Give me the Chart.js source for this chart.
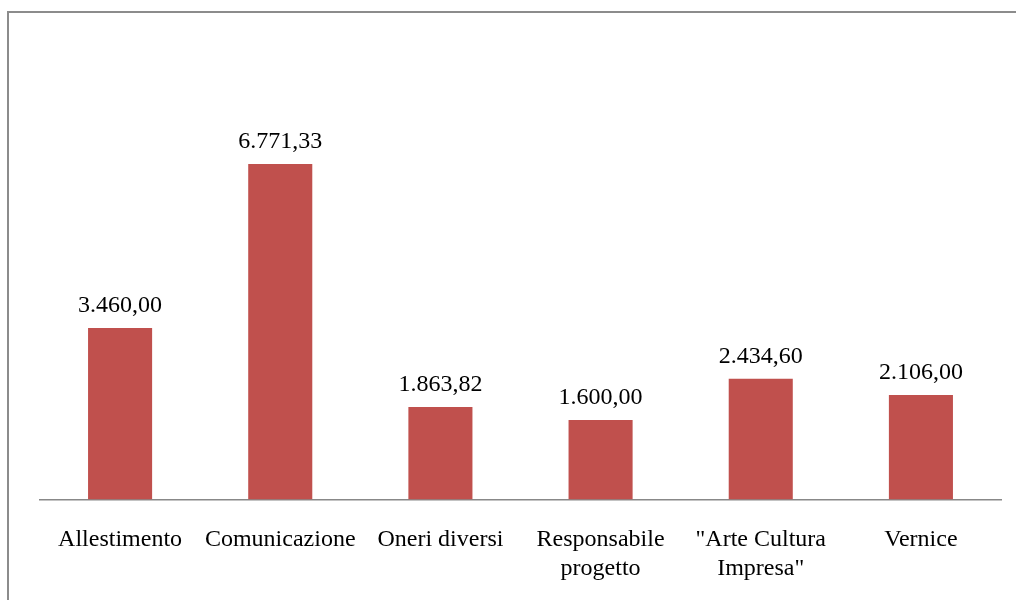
<!DOCTYPE html>
<html>
<head>
<meta charset="utf-8">
<script src="https://cdn.jsdelivr.net/npm/chart.js@4"></script>
<style>
  html, body { margin: 0; padding: 0; background: #fff; overflow: hidden; }
  #wrap { position: relative; width: 1016px; height: 600px; overflow: hidden; }
  #frame { position: absolute; left: 7px; top: 11px; width: 1100px; height: 700px; border: 2px solid #8c8c8c; box-sizing: border-box; }
  canvas { position: absolute; left: 0; top: 0; }
</style>
</head>
<body>
<div id="wrap">
  <div id="frame"></div>
  <canvas id="myChart" width="1016" height="609"></canvas>
</div>
<script>
// Chart data
var categories = ['Allestimento', 'Comunicazione', 'Oneri diversi', ['Responsabile', 'progetto'], ['"Arte Cultura', 'Impresa"'], 'Vernice'];
var amounts = [3460.00, 6771.33, 1863.82, 1600.00, 2434.60, 2106.00];
var axisMax = 8000;

// Italian number format: 1.234,56
function formatIt(v) {
    var parts = v.toFixed(2).split('.');
    var intPart = parts[0].replace(/\B(?=(\d{3})+(?!\d))/g, '.');
    return intPart + ',' + parts[1];
}

// Draws the value over each bar
var valueLabels = {
    id: 'valueLabels',
    afterDatasetsDraw: function(chart) {
        var ctx = chart.ctx;
        var meta = chart.getDatasetMeta(0);
        ctx.save();
        ctx.font = '24px "Liberation Serif", "Times New Roman", serif';
        ctx.fillStyle = '#000';
        ctx.textAlign = 'center';
        ctx.textBaseline = 'alphabetic';
        meta.data.forEach(function(bar, i) {
            ctx.fillText(formatIt(amounts[i]), bar.x, bar.y - 16);
        });
        ctx.restore();
    }
};

var ctx = document.getElementById('myChart').getContext('2d');
var myChart = new Chart(ctx, {
    type: 'bar',
    data: {
        labels: categories,
        datasets: [{
            data: amounts,
            backgroundColor: '#C0504D',
            borderWidth: 0,
            barPercentage: 0.4,
            categoryPercentage: 1.0
        }]
    },
    options: {
        responsive: false,
        animation: false,
        events: [],
        layout: {
            padding: { left: 40, right: 15, top: 103, bottom: 0 }
        },
        plugins: {
            legend: { display: false },
            tooltip: { enabled: false }
        },
        scales: {
            x: {
                grid: { display: false, drawTicks: false },
                border: { display: true, color: '#888888', width: 1.5 },
                ticks: {
                    color: '#000',
                    padding: 26,
                    autoSkip: false,
                    maxRotation: 0,
                    font: { family: '"Liberation Serif", "Times New Roman", serif', size: 24, lineHeight: 1.2 }
                }
            },
            y: {
                display: false,
                min: 0,
                max: axisMax
            }
        }
    },
    plugins: [valueLabels]
});
</script>
</body>
</html>
